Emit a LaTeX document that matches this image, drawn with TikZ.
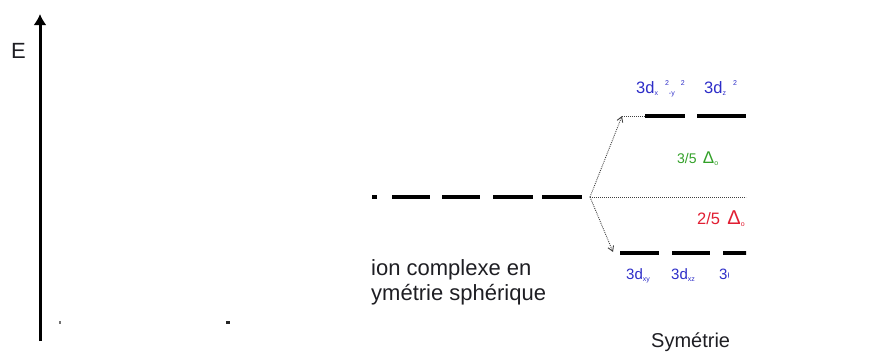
\documentclass[tikz,border=0pt]{standalone}
\usepackage{fontspec}
\setmainfont{Liberation Sans}
\usetikzlibrary{arrows.meta}
\definecolor{orbblue}{RGB}{45,45,200}
\definecolor{splitgreen}{RGB}{50,160,40}
\definecolor{splitred}{RGB}{225,30,50}
\definecolor{inkdark}{RGB}{30,30,35}
\newcommand{\orbsub}[1]{\raisebox{-2pt}{\fontsize{7}{7}\selectfont #1}}
\newcommand{\orbsup}[1]{\raisebox{8pt}{\fontsize{7}{7}\selectfont #1}}
\newcommand{\bigdelta}[1]{{\fontsize{#1}{#1}\selectfont Δ}}
\begin{document}
\begin{tikzpicture}[x=1pt,y=-1pt,
  orblevel/.style={line width=4pt},
  guide/.style={line width=0.9pt, dash pattern=on 0.9pt off 1.1pt, black!75},
  guidearrow/.style={guide, -{Straight Barb[length=5pt,width=6pt]}},
  txt/.style={inner sep=0pt, anchor=base west, text=inkdark},
  orbtxt/.style={txt, text=orbblue, font=\fontsize{16.5}{18}\selectfont},
  lowtxt/.style={orbtxt, font=\fontsize{15}{16}\selectfont},
]
\useasboundingbox (0,0) rectangle (882,354);

% energy axis
\draw[line width=3pt, -{Latex[length=11pt,width=13pt]}] (40,341) -- (40,14);
\node[txt, font=\fontsize{22}{24}\selectfont] (E) at (11,58) {E};

% stray marks near the baseline
\fill[black!55] (59,321) rectangle (61,324);
\fill[black!85] (226,321) rectangle (230,324);

% degenerate level (spherical field)
\fill[black] (372,195) rectangle (377,199);
\foreach \a/\b in {392/430, 442/480, 493/533, 542/582}
  \draw[orblevel] (\a,197) -- (\b,197);
\coordinate (split) at (590,197);

\node[txt, font=\fontsize{22}{24}\selectfont] (ion) at (371,275) {ion complexe en};
\node[txt, font=\fontsize{22}{24}\selectfont] (sph) at (371,300) {ymétrie sphérique};
\node[txt, font=\fontsize{20}{24}\selectfont] (sym) at (651,347) {Symétrie};

\begin{scope}
  \clip (560,60) rectangle (746,300);
  \coordinate (eg) at (622,116);
  \coordinate (tg) at (613,252);
  \coordinate (egend) at (746,116);
  \coordinate (bary) at (746,197);
  % barycentre and splitting arrows
  \draw[guide] (split) -- (bary);
  \draw[guidearrow] (split) -- (eg);
  \draw[guidearrow] (split) -- (tg);
  % eg level
  \draw[guide] (eg) -- (645,116);
  \draw[orblevel] (645,116) -- (685,116);
  \draw[orblevel] (697,116) -- (egend);
  % t2g level
  \foreach \a/\b in {620/659, 672/710, 723/760}
    \draw[orblevel] (\a,253) -- (\b,253);
  % orbital labels
  \node[orbtxt] (dx2y2) at (636,93) {3d\orbsub{x}\hspace{7pt}\orbsup{2}\orbsub{-y}\hspace{6pt}\orbsup{2}};
  \node[orbtxt] (dz2) at (704,93) {3d\orbsub{z}\hspace{7pt}\orbsup{2}};
  \node[lowtxt] (dxy) at (626,279) {3d\orbsub{xy}};
  \node[lowtxt] (dxz) at (671,279) {3d\orbsub{xz}};
  % splitting energies
  \node[txt, text=splitgreen, font=\fontsize{14}{16}\selectfont] (up) at (677,163) {3/5 \,\bigdelta{17}\orbsub{o}};
  \node[txt, text=splitred, font=\fontsize{16.5}{18}\selectfont] (down) at (697,224) {2/5 \,\bigdelta{20}\orbsub{o}};
\end{scope}
\begin{scope}
  \clip (700,260) rectangle (728,290);
  \node[lowtxt] (dyz) at (719,279) {3d\orbsub{yz}};
\end{scope}
\end{tikzpicture}
\end{document}
